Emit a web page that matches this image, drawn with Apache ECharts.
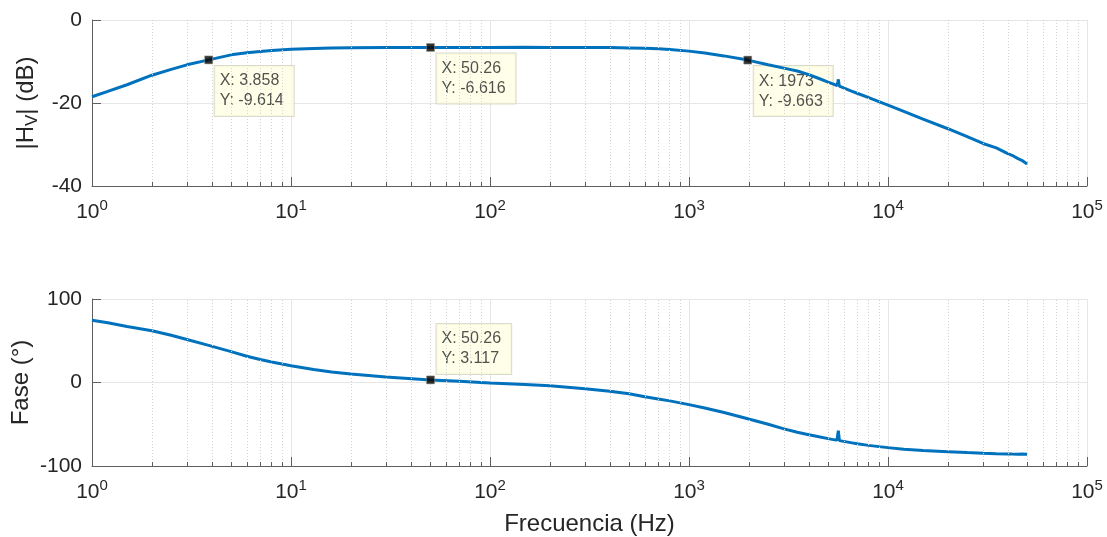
<!DOCTYPE html>
<html><head><meta charset="utf-8">
<script src="https://cdn.jsdelivr.net/npm/echarts@6/dist/echarts.min.js"></script>
<style>html,body{margin:0;padding:0;background:#fff}#c{width:1107px;height:537px}</style>
</head><body><div id="c"></div>
<script>
// ---- data ----
const freqHz = [1, 1.2, 1.5, 2, 2.5, 3, 3.858, 5, 6, 7, 8, 10, 13, 16, 20, 30, 50.26, 70, 100, 150, 200, 300, 400, 500, 600, 700, 800, 1000, 1200, 1500, 1973, 2500, 3000, 3500, 4000, 4500, 5000, 5400, 5550, 5600, 5630, 5660, 5700, 5800, 6500, 7000, 8000, 9000, 10000, 12000, 15000, 20000, 25000, 30000, 35000, 40000, 42000, 45000, 47000, 50000];
const magDb = [-18.5, -17.2, -15.6, -13.3, -11.9, -10.8, -9.614, -8.4, -7.9, -7.6, -7.35, -7.05, -6.85, -6.75, -6.7, -6.65, -6.616, -6.6, -6.6, -6.58, -6.6, -6.62, -6.65, -6.72, -6.82, -6.95, -7.1, -7.5, -7.95, -8.65, -9.663, -10.78, -11.6, -12.3, -13.15, -14.1, -14.95, -15.55, -15.8, -14.9, -14.3, -15.2, -15.95, -16.1, -17.06, -17.65, -18.7, -19.65, -20.5, -22.0, -23.9, -26.2, -28.1, -29.75, -30.8, -32.2, -32.6, -33.4, -33.8, -34.7];
const phaseDeg = [74.5, 71.5, 67, 62, 56.5, 51.5, 44.5, 37, 31.5, 27.5, 24.5, 20, 15.5, 12.5, 10.2, 6.5, 3.117, 1.5, -0.6, -2.5, -4.0, -7.4, -10.5, -13.5, -17, -19.8, -22, -26.5, -30.5, -36, -43.5, -50, -55.5, -59.5, -62.5, -65, -67.2, -68.7, -69, -61, -57.8, -63, -69.6, -70, -72, -73.3, -75.3, -76.8, -78, -79.8, -81.5, -82.8, -83.8, -84.6, -85.2, -85.5, -85.7, -85.8, -85.6, -86];
const magTipX = [3.858, 50.26, 1973];
const magTipY = [-9.614, -6.616, -9.663];
const phaseTipX = [50.26];
const phaseTipY = [3.117];
const minorMultipliers = [2, 3, 4, 5, 6, 7, 8, 9];
const decades = [1, 10, 100, 1000, 10000];
const magTicks = {min: -40, max: 0, interval: 20};
const phaseTicks = {min: -100, max: 100, interval: 100};

// ---- styling ----
const FONT = '"Liberation Sans", Arial, Helvetica, sans-serif';
const TXT = '#262626';
const AX = '#5e5e5e';
const GRID = '#e6e6e6';
const BLUE = '#0072BD';

const minorF = [];
decades.forEach(d => minorMultipliers.forEach(m => minorF.push(d * m)));

function xAxis(gi, name) {
  const a = {
    type: 'log', logBase: 10, min: 1, max: 100000, gridIndex: gi,
    axisLine: {show: true, onZero: false, lineStyle: {color: AX, width: 1}},
    axisTick: {show: true, inside: true, length: 9, lineStyle: {color: AX}},
    axisLabel: {
      margin: 12,
      formatter: v => '{b|10}{s|' + Math.round(Math.log10(v)) + '}',
      rich: {
        b: {fontSize: 21, fontFamily: FONT, color: TXT, lineHeight: 25, padding: [6, 0, 0, 0], verticalAlign: 'bottom'},
        s: {fontSize: 15, fontFamily: FONT, color: TXT, lineHeight: 15, verticalAlign: 'top'}
      }
    },
    splitLine: {show: true, lineStyle: {color: GRID, width: 1}}
  };
  if (name) {
    a.name = name; a.nameLocation = 'middle'; a.nameGap = 44; a.nameMoveOverlap = false;
    a.nameTextStyle = {fontSize: 24, fontFamily: FONT, color: TXT, lineHeight: 28};
  }
  return a;
}
function yAxis(gi, t, name, gap) {
  return {
    type: 'value', gridIndex: gi, min: t.min, max: t.max, interval: t.interval,
    axisLine: {show: true, onZero: false, lineStyle: {color: AX, width: 1}},
    axisTick: {show: true, inside: true, length: 9, lineStyle: {color: AX}},
    axisLabel: {margin: 10, fontSize: 21, fontFamily: FONT, color: TXT},
    splitLine: {show: true, lineStyle: {color: GRID, width: 1}},
    name: name, nameLocation: 'middle', nameGap: gap, nameRotate: 90, nameMoveOverlap: false,
    nameTextStyle: {fontSize: 24, fontFamily: FONT, color: TXT, lineHeight: 30,
      rich: {sub: {fontSize: 17, fontFamily: FONT, color: TXT, lineHeight: 17, verticalAlign: 'bottom'}}}
  };
}
function helper(gi, t, tickLen) {
  const grid = minorF.map(f => ({xAxis: f}));
  const ticks = minorF.map(f => [{coord: [f, t.min]}, {coord: [f, t.min + tickLen]}]);
  return [
    {type: 'line', xAxisIndex: gi, yAxisIndex: gi, data: [], silent: true, z: 1,
     markLine: {silent: true, symbol: ['none', 'none'], label: {show: false}, animation: false,
       lineStyle: {color: '#d4d4d4', type: [1, 2], width: 1}, data: grid}},
    {type: 'line', xAxisIndex: gi, yAxisIndex: gi, data: [], silent: true, z: 3,
     markLine: {silent: true, symbol: ['none', 'none'], label: {show: false}, animation: false,
       lineStyle: {color: AX, type: 'solid', width: 1}, data: ticks}}
  ];
}
// datatip boxes (drawn under the curve) and datatip markers (drawn over it)
function tipBoxes(gi, xs, ys, pos, va) {
  return {
    type: 'scatter', xAxisIndex: gi, yAxisIndex: gi, z: 2, silent: true,
    data: xs.map((x, i) => [x, ys[i]]),
    symbol: 'rect', symbolSize: 8,
    itemStyle: {color: 'rgba(0,0,0,0)'},
    label: {
      show: true, position: pos, align: 'left', verticalAlign: va,
      formatter: p => 'X: ' + p.value[0] + '\nY: ' + p.value[1],
      backgroundColor: '#ffffe4', borderColor: '#d2d2c0', borderWidth: 1,
      padding: [5, 10, 5, 5], fontSize: 16, lineHeight: 20, color: TXT, fontFamily: FONT
    }
  };
}
function tipMarks(gi, xs, ys) {
  return {
    type: 'scatter', xAxisIndex: gi, yAxisIndex: gi, z: 6, silent: true,
    data: xs.map((x, i) => [x, ys[i]]),
    symbol: 'rect', symbolSize: 8,
    itemStyle: {color: '#000', borderColor: '#9a9a80', borderWidth: 0.6}
  };
}

const chart = echarts.init(document.getElementById('c'), null, {renderer: 'canvas'});
chart.setOption({
  animation: false,
  backgroundColor: '#fff',
  grid: [
    {left: 92, right: 20, top: 20, height: 166, containLabel: false, outerBoundsMode: 'none'},
    {left: 92, right: 20, top: 299, height: 167, containLabel: false, outerBoundsMode: 'none'}
  ],
  xAxis: [xAxis(0), xAxis(1, 'Frecuencia (Hz)')],
  yAxis: [yAxis(0, magTicks, '|H{sub|V}| (dB)', 51), yAxis(1, phaseTicks, 'Fase (°)', 56)],
  series: [
    ...helper(0, magTicks, 1.0),
    ...helper(1, phaseTicks, 4.8),
    tipBoxes(0, magTipX, magTipY, [10, 10], 'top'),
    tipBoxes(1, phaseTipX, phaseTipY, [10, -2], 'bottom'),
    {type: 'line', xAxisIndex: 0, yAxisIndex: 0, z: 4, showSymbol: false, smooth: false,
     data: freqHz.map((f, i) => [f, magDb[i]]), lineStyle: {color: BLUE, width: 3}},
    {type: 'line', xAxisIndex: 1, yAxisIndex: 1, z: 4, showSymbol: false, smooth: false,
     data: freqHz.map((f, i) => [f, phaseDeg[i]]), lineStyle: {color: BLUE, width: 3}},
    tipMarks(0, magTipX, magTipY),
    tipMarks(1, phaseTipX, phaseTipY)
  ]
});
</script></body></html>
